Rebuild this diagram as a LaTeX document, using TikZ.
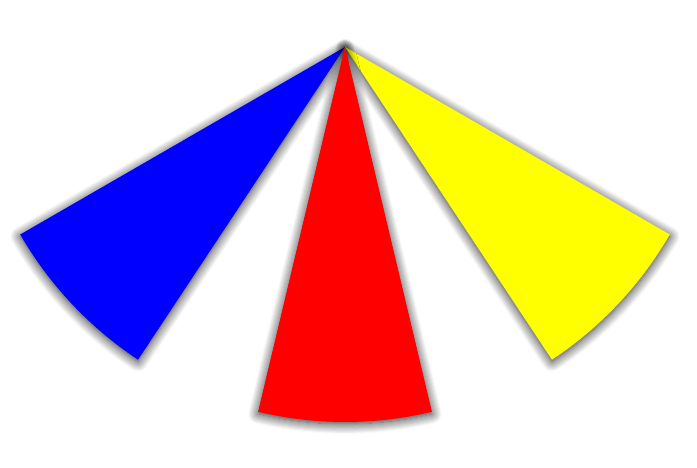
\documentclass[tikz,border=0pt]{standalone}
\usetikzlibrary{shadows.blur}
\definecolor{pureyellow}{RGB}{255,255,0}
\definecolor{pureblue}{RGB}{0,0,255}
\definecolor{purered}{RGB}{255,0,0}
\begin{document}
\begin{tikzpicture}[x=1pt,y=1pt,
  sector/.style={blur shadow={shadow xshift=0pt,shadow yshift=-2pt,shadow blur radius=10pt,shadow blur steps=10,shadow opacity=85}}]
\useasboundingbox (0,0) rectangle (697,467);
\coordinate (apex) at (345,420);
\fill[pureblue,sector] (apex) -- ++(210:375) arc[start angle=210,end angle=236.5,radius=375] -- cycle;
\fill[pureyellow,sector] (apex) -- ++(303.5:375) arc[start angle=303.5,end angle=330,radius=375] -- cycle;
\fill[purered,sector] (apex) -- ++(256.6:375) arc[start angle=256.6,end angle=283.4,radius=375] -- cycle;
\end{tikzpicture}
\end{document}
